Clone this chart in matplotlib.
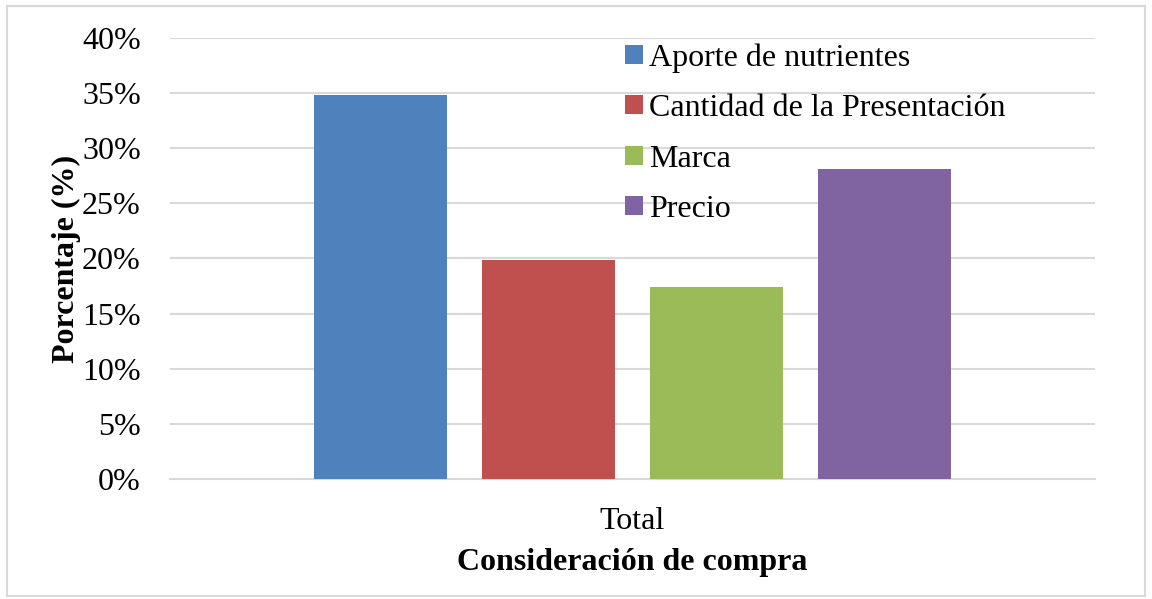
import matplotlib as mpl
mpl.use('Agg')
import matplotlib.pyplot as plt
from matplotlib.patches import Rectangle

series = ["Aporte de nutrientes", "Cantidad de la Presentación", "Marca", "Precio"]
values = [34.8, 19.9, 17.4, 28.1]
colors = ['#4F81BD', '#C0504D', '#9BBB59', '#8064A2']
category = "Total"
yticks = [0, 5, 10, 15, 20, 25, 30, 35, 40]

plt.rcParams['font.family'] = ['Liberation Serif', 'DejaVu Serif']

fig = plt.figure(figsize=(11.52, 5.99), dpi=100)
ax = fig.add_axes([0.1476, 0.2003, 0.8029, 0.7363])

offsets = [-1.5, -0.5, 0.5, 1.5]
for off, v, c, name in zip(offsets, values, colors, series):
    ax.bar(off, v, width=0.79, color=c, label=name, zorder=3)

ax.set_xlim(-2.753, 2.753)
ax.set_ylim(0, 40)
ax.set_yticks(yticks)
ax.set_yticklabels([f"{t}%" for t in yticks], fontsize=23)
ax.set_xticks([0])
ax.set_xticklabels([category], fontsize=23)
ax.tick_params(length=0)
ax.tick_params(axis='y', pad=21)
ax.tick_params(axis='x', pad=20)
ax.grid(axis='y', color='#d9d9d9', linewidth=1.5, zorder=0)
for s in ['top', 'right', 'left']:
    ax.spines[s].set_visible(False)
ax.spines['bottom'].set_color('#d9d9d9')
ax.spines['bottom'].set_linewidth(1.5)

ax.set_ylabel("Porcentaje (%)", fontsize=23, fontweight='bold', labelpad=1)
ax.set_xlabel("Consideración de compra", fontsize=23, fontweight='bold', labelpad=9)

ax.legend(loc='upper left', bbox_to_anchor=(0.478, 1.017), frameon=False,
          fontsize=23, handlelength=0.55, handleheight=0.55, handletextpad=0.2,
          labelspacing=0.67, borderaxespad=0)

fig.patches.append(Rectangle((0.006, 0.005), 0.988, 0.985, transform=fig.transFigure,
                             fill=False, edgecolor='#d9d9d9', linewidth=1.5))

fig.savefig('out.png', dpi=100)
